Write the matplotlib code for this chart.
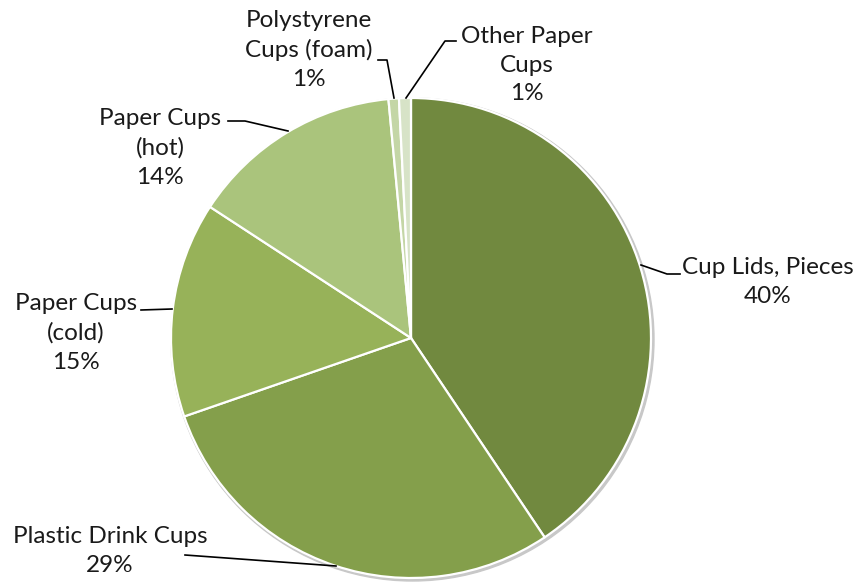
import matplotlib.pyplot as plt
from matplotlib.patches import Circle

# slice data, clockwise from 12 o'clock
labels = ["Cup Lids, Pieces", "Plastic Drink Cups", "Paper Cups\n(cold)",
          "Paper Cups\n(hot)", "Polystyrene\nCups (foam)", "Other Paper\nCups"]
values = [40.6, 29.1, 14.5, 14.3, 0.7, 0.8]
pct_text = ["40%", "29%", "15%", "14%", "1%", "1%"]
colors = ["#71893F", "#849F4B", "#97B259", "#AAC47C", "#C4D6A6", "#D7E3C7"]

# label placement (pixel coords, y from top) and leader lines
label_pos = [(768, 282), (110, 551), (76, 333), (160, 148), (309, 50), (527, 65)]
leaders = [
    [(680, 274), (667, 274), (641, 265)],
    [(185, 555), (336, 566)],
    [(141, 310), (172, 309)],
    [(228, 121), (245, 121), (288, 131)],
    [(378, 60), (387, 60), (394, 98)],
    [(456, 41), (445, 41), (406, 98)],
]

W, H = 858, 582
fig = plt.figure(figsize=(W / 100, H / 100), dpi=100)
ax = fig.add_axes([0, 0, 1, 1])
ax.set_xlim(0, W)
ax.set_ylim(0, H)
ax.set_aspect("equal")
ax.axis("off")

cx, cy, r = 411, H - 338, 240

# faint shadow under the pie
ax.add_patch(Circle((cx + 1.5, cy - 1.5), r + 1.5, color="#c8c8c8", zorder=0))

ax.pie(values, colors=colors, startangle=90, counterclock=False,
       center=(cx, cy), radius=r, frame=True,
       wedgeprops=dict(edgecolor="white", linewidth=1.6))
ax.set_xlim(0, W)
ax.set_ylim(0, H)
ax.axis("off")

for lab, pct, (x, y) in zip(labels, pct_text, label_pos):
    ax.text(x, H - y, lab + "\n" + pct, ha="center", va="center",
            fontsize=17.5, family="Lato", linespacing=1.45, color="#1a1a1a")

for pts in leaders:
    xs = [p[0] for p in pts]
    ys = [H - p[1] for p in pts]
    ax.plot(xs, ys, color="black", linewidth=1.2, zorder=5)

fig.savefig("out.png", dpi=100)
